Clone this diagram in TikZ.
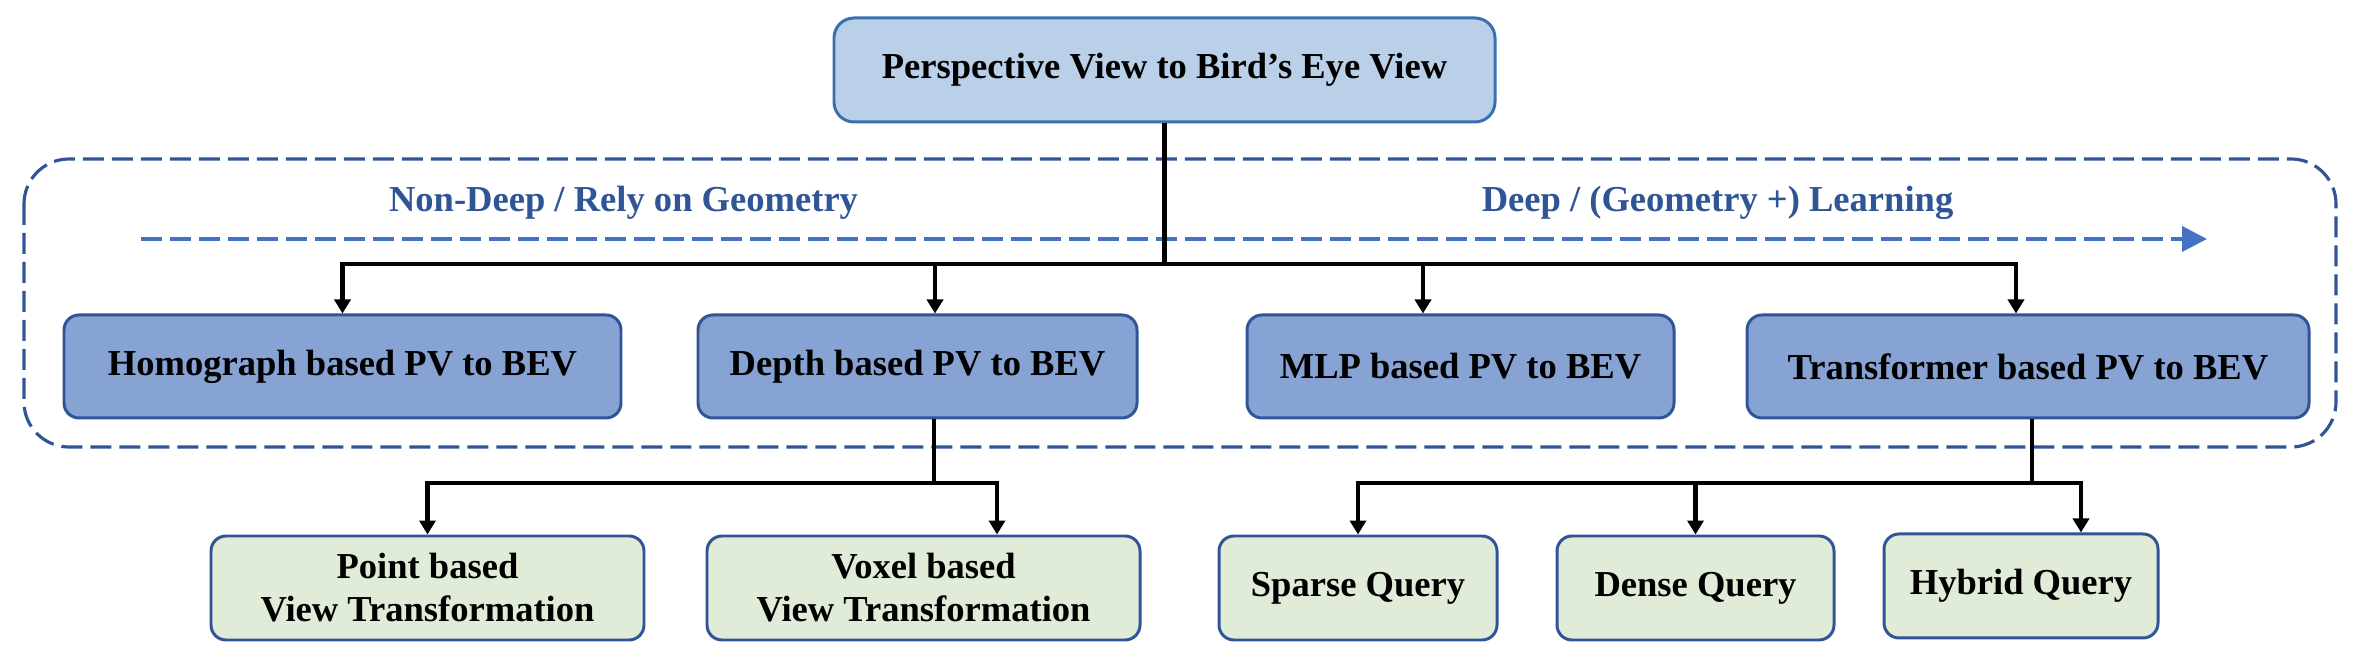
\documentclass[tikz,border=0pt]{standalone}
\usepackage{fontspec}
\setmainfont{Liberation Serif}
\usetikzlibrary{arrows.meta}
\definecolor{titlefill}{HTML}{BAD0E8}
\definecolor{titledraw}{HTML}{3A6FB0}
\definecolor{methfill}{HTML}{86A3D4}
\definecolor{subfill}{HTML}{E0ECD7}
\definecolor{boxdraw}{HTML}{2F5597}
\definecolor{trendblue}{HTML}{4472C4}

\begin{document}
\begin{tikzpicture}[
  font=\fontsize{10.4}{12.2}\selectfont\bfseries,
  box/.style={draw=boxdraw, line width=0.85pt, rounded corners=0.15cm, inner sep=0pt, align=center},
  meth/.style={box, fill=methfill, minimum height=1.03cm},
  sub/.style={box, fill=subfill, minimum height=1.04cm},
  conn/.style={line width=1.15pt},
  arr/.style={conn, -{Triangle[length=0.14cm,width=0.16cm]}},
  dashline/.style={line width=0.9pt, dash pattern=on 0.21cm off 0.08cm}
]
  \useasboundingbox (0,0) rectangle (23.6,-6.62);
  \node[box, fill=titlefill, draw=titledraw, minimum width=6.61cm, minimum height=1.04cm, rounded corners=0.2cm] (title) at (11.645,-0.70) {Perspective View to Bird’s Eye View};

  \draw[boxdraw, dashline, rounded corners=0.45cm] (0.24,-1.59) rectangle (23.36,-4.47);
  \node[text=boxdraw, anchor=base] (nondeep) at (6.235,-2.12) {Non-Deep / Rely on Geometry};
  \node[text=boxdraw, anchor=base] (deep) at (17.175,-2.12) {Deep / (Geometry +) Learning};
  \coordinate (trendL) at (1.41,-2.39);
  \coordinate (trendR) at (22.07,-2.39);
  \draw[trendblue, dashline, line width=1.1pt, -{Triangle[length=0.25cm,width=0.25cm]}] (trendL) -- (trendR);

  \node[meth, minimum width=5.57cm] (homo) at (3.425,-3.665) {Homograph based PV to BEV};
  \node[meth, minimum width=4.39cm] (depth) at (9.175,-3.665) {Depth based PV to BEV};
  \node[meth, minimum width=4.27cm] (mlp) at (14.605,-3.665) {MLP based PV to BEV};
  \node[meth, minimum width=5.62cm] (trans) at (20.28,-3.665) {Transformer based PV to BEV};

  \node[sub, minimum width=4.33cm] (point) at (4.275,-5.88) {Point based\\View Transformation};
  \node[sub, minimum width=4.33cm] (voxel) at (9.235,-5.88) {Voxel based\\View Transformation};
  \node[sub, minimum width=2.78cm] (sparse) at (13.58,-5.88) {Sparse Query};
  \node[sub, minimum width=2.77cm] (dense) at (16.955,-5.88) {Dense Query};
  \node[sub, minimum width=2.74cm] (hybrid) at (20.21,-5.86) {Hybrid Query};

  % branch points
  \coordinate (bus1) at (0,-2.64);
  \coordinate (bus2) at (0,-4.83);
  \coordinate (depthin) at ([xshift=0.175cm]depth.north);
  \coordinate (mlpin) at ([xshift=-0.375cm]mlp.north);
  \coordinate (transin) at ([xshift=-0.12cm]trans.north);
  \coordinate (depthout) at ([xshift=0.165cm]depth.south);
  \coordinate (transout) at ([xshift=0.04cm]trans.south);
  \coordinate (voxelin) at ([xshift=0.735cm]voxel.north);
  \coordinate (hybridin) at ([xshift=0.6cm]hybrid.north);

  \draw[conn] (title.south) -- (title.south |- bus1);
  \draw[arr] (title.south |- bus1) -| (homo.north);
  \draw[arr] (title.south |- bus1) -| (depthin);
  \draw[arr] (title.south |- bus1) -| (mlpin);
  \draw[arr] (title.south |- bus1) -| (transin);

  \draw[conn] (depthout) -- (depthout |- bus2);
  \draw[arr] (depthout |- bus2) -| (point.north);
  \draw[arr] (depthout |- bus2) -| (voxelin);

  \draw[conn] (transout) -- (transout |- bus2);
  \draw[arr] (transout |- bus2) -| (sparse.north);
  \draw[arr] (transout |- bus2) -| (dense.north);
  \draw[arr] (transout |- bus2) -| (hybridin);
\end{tikzpicture}
\end{document}
